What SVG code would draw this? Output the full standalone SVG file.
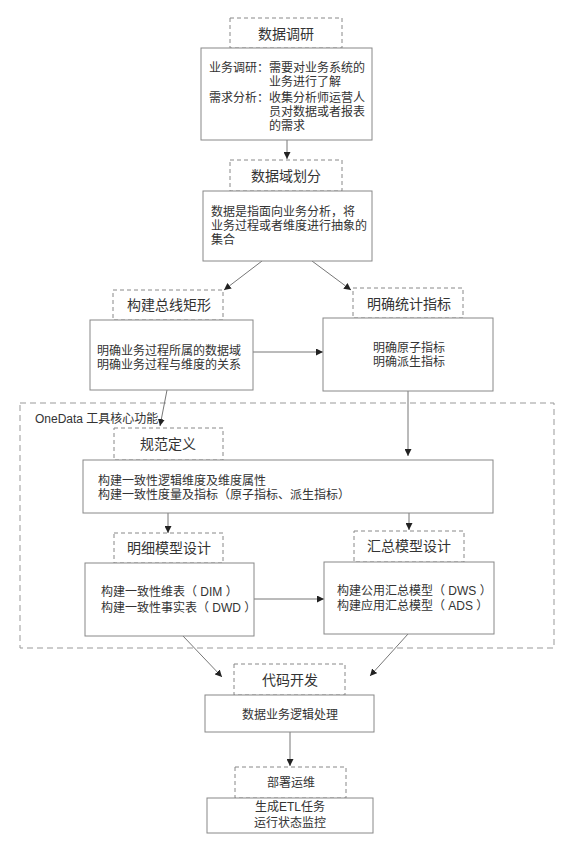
<svg xmlns="http://www.w3.org/2000/svg" width="576" height="848" viewBox="0 0 576 848">
<defs>
<marker id="ah" viewBox="0 0 10 10" refX="10" refY="5" markerWidth="7" markerHeight="7" orient="auto" markerUnits="userSpaceOnUse">
<path d="M0,0 L10,5 L0,10 z" fill="#222"/>
</marker>
<style>
.hd{fill:none;stroke:#888;stroke-width:1;stroke-dasharray:4 3}
.bx{fill:#fff;stroke:#888;stroke-width:1}
.ct{fill:none;stroke:#999;stroke-width:1;stroke-dasharray:6 4}
.t{font-family:"Liberation Sans","Noto Sans CJK SC",sans-serif;font-size:12px;fill:#333}
.h{font-family:"Liberation Sans","Noto Sans CJK SC",sans-serif;font-size:14px;fill:#333}
.c{stroke:#777;stroke-width:1;fill:none;marker-end:url(#ah)}
</style>
</defs>
<rect width="576" height="848" fill="#fff"/>
<g id="container">
<rect class="ct" x="20" y="403" width="534" height="245"/>
<text class="t" x="35" y="423" font-size="13">OneData 工具核心功能</text>
</g>
<g id="connectors">
<line class="c" x1="287" y1="140" x2="287" y2="159"/>
<line class="c" x1="262" y1="261" x2="224" y2="290"/>
<line class="c" x1="312" y1="261" x2="351" y2="290"/>
<line class="c" x1="253" y1="352" x2="323" y2="352"/>
<line class="c" x1="167" y1="390" x2="160" y2="426"/>
<line class="c" x1="408" y1="391" x2="408" y2="456"/>
<line class="c" x1="168" y1="513" x2="168" y2="533"/>
<line class="c" x1="409" y1="513" x2="409" y2="530"/>
<line class="c" x1="254" y1="599" x2="324" y2="599"/>
<line class="c" x1="183" y1="636" x2="222" y2="677"/>
<line class="c" x1="408" y1="634" x2="370" y2="676"/>
<line class="c" x1="290" y1="732" x2="290" y2="766"/>
</g>
<g id="n1">
<rect class="hd" x="230" y="18" width="112" height="30"/>
<text class="h" x="286" y="39" text-anchor="middle" font-size="15">数据调研</text>
<rect class="bx" x="201" y="48" width="171" height="92"/>
<text class="t" x="209" y="72">业务调研：需要对业务系统的</text>
<text class="t" x="269" y="86">业务进行了解</text>
<text class="t" x="209" y="102">需求分析：收集分析师运营人</text>
<text class="t" x="269" y="116">员对数据或者报表</text>
<text class="t" x="269" y="130">的需求</text>
</g>
<g id="n2">
<rect class="hd" x="230" y="160" width="112" height="31"/>
<text class="h" x="286" y="181" text-anchor="middle" font-size="15">数据域划分</text>
<rect class="bx" x="203" y="191" width="169" height="70"/>
<text class="t" x="211" y="216">数据是指面向业务分析，将</text>
<text class="t" x="211" y="230">业务过程或者维度进行抽象的</text>
<text class="t" x="211" y="244">集合</text>
</g>
<g id="n3">
<rect class="hd" x="113" y="290" width="110" height="30"/>
<text class="h" x="169" y="310" text-anchor="middle">构建总线矩形</text>
<rect class="bx" x="90" y="320" width="163" height="70"/>
<text class="t" x="97" y="355">明确业务过程所属的数据域</text>
<text class="t" x="97" y="369">明确业务过程与维度的关系</text>
</g>
<g id="n4">
<rect class="hd" x="353" y="288" width="110" height="30"/>
<text class="h" x="409" y="309" text-anchor="middle">明确统计指标</text>
<rect class="bx" x="323" y="318" width="170" height="73"/>
<text class="t" x="409" y="352" text-anchor="middle">明确原子指标</text>
<text class="t" x="409" y="366" text-anchor="middle">明确派生指标</text>
</g>
<g id="n5">
<rect class="hd" x="114" y="428" width="109" height="32"/>
<text class="h" x="168" y="449" text-anchor="middle">规范定义</text>
<rect class="bx" x="83" y="460" width="410" height="53"/>
<text class="t" x="98" y="485">构建一致性逻辑维度及维度属性</text>
<text class="t" x="98" y="499">构建一致性度量及指标（原子指标、派生指标）</text>
</g>
<g id="n6">
<rect class="hd" x="114" y="533" width="109" height="30"/>
<text class="h" x="169" y="553" text-anchor="middle">明细模型设计</text>
<rect class="bx" x="85" y="563" width="169" height="73"/>
<text class="t" x="101" y="596">构建一致性维表（ DIM ）</text>
<text class="t" x="101" y="612">构建一致性事实表（ DWD ）</text>
</g>
<g id="n7">
<rect class="hd" x="354" y="531" width="110" height="31"/>
<text class="h" x="409" y="551" text-anchor="middle">汇总模型设计</text>
<rect class="bx" x="324" y="562" width="170" height="72"/>
<text class="t" x="337" y="595">构建公用汇总模型（ DWS ）</text>
<text class="t" x="337" y="610">构建应用汇总模型（ ADS ）</text>
</g>
<g id="n8">
<rect class="hd" x="234" y="664" width="111" height="31"/>
<text class="h" x="290" y="685" text-anchor="middle">代码开发</text>
<rect class="bx" x="205" y="695" width="169" height="37"/>
<text class="t" x="290" y="719" text-anchor="middle">数据业务逻辑处理</text>
</g>
<g id="n9">
<rect class="hd" x="235" y="767" width="111" height="31"/>
<text class="t" x="291" y="787" text-anchor="middle">部署运维</text>
<rect class="bx" x="207" y="798" width="166" height="35"/>
<text class="t" x="290" y="811" text-anchor="middle">生成ETL任务</text>
<text class="t" x="290" y="827" text-anchor="middle">运行状态监控</text>
</g>
</svg>
